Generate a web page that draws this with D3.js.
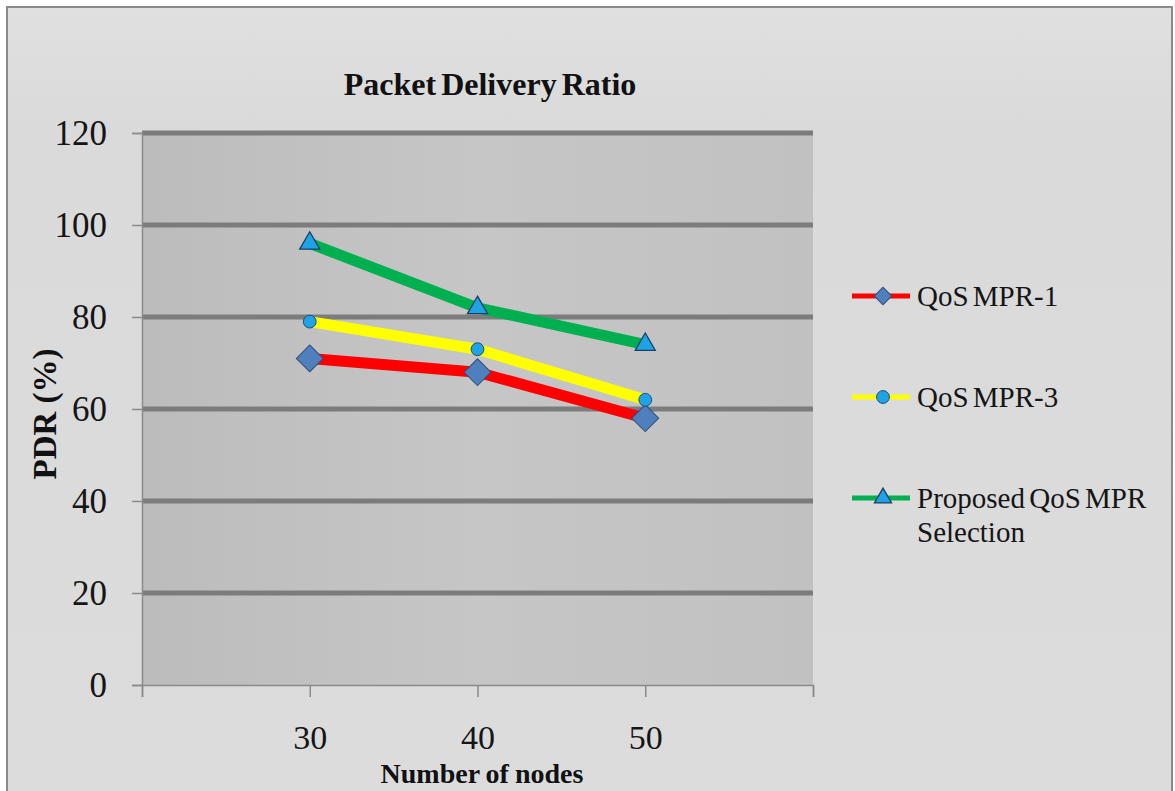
<!DOCTYPE html>
<html>
<head>
<meta charset="utf-8">
<script src="https://cdn.jsdelivr.net/npm/d3@7"></script>
<style>
  html, body { margin: 0; padding: 0; background: #ffffff; }
  svg { display: block; }
</style>
</head>
<body>
<svg id="chart" width="1175" height="791"></svg>
<script>
// Packet delivery ratio vs. number of nodes
const nodes = [30, 40, 50];
const xTicks = [20, 30, 40, 50, 60];
const xTickLabels = ["", "30", "40", "50", ""];
const yTicks = [0, 20, 40, 60, 80, 100, 120];

const seriesNames = ["QoS MPR-1", "QoS MPR-3", "Proposed QoS MPR Selection"];
const mpr1 = [71, 68, 58];
const mpr3 = [79, 73, 62];
const proposed = [96, 82, 74];

const lineColors = ["#ff0000", "#ffff00", "#00b050"];
const markerShapes = ["diamond", "circle", "triangle"];

const SERIF = '"Liberation Serif", "Times New Roman", serif';

const svg = d3.select("#chart");
const W = 1175, H = 791;

// outer chart area and frame
const defs = svg.append("defs");
const bg = defs.append("linearGradient").attr("id", "bgGrad").attr("x1", 0).attr("y1", 0).attr("x2", 0).attr("y2", 1);
bg.append("stop").attr("offset", "0").attr("stop-color", "#e0e0e0");
bg.append("stop").attr("offset", "0.15").attr("stop-color", "#dadada");
bg.append("stop").attr("offset", "1").attr("stop-color", "#dcdcdc");
svg.append("rect").attr("x", 0).attr("y", 0).attr("width", W).attr("height", H).attr("fill", "#ffffff");
svg.append("rect").attr("x", 7).attr("y", 7).attr("width", 1165).attr("height", 800)
  .attr("fill", "url(#bgGrad)").attr("stroke", "#8a8a8a").attr("stroke-width", 2);

const plot = { left: 142, right: 813, top: 133, bottom: 685 };

const x = d3.scaleLinear().domain([20, 60]).range([plot.left, plot.right]);
const y = d3.scaleLinear().domain([0, 120]).range([plot.bottom, plot.top]);

// plot area fill
const pg = defs.append("linearGradient").attr("id", "plotGrad").attr("x1", 0).attr("y1", 0).attr("x2", 1).attr("y2", 0);
pg.append("stop").attr("offset", "0").attr("stop-color", "#bcbcbc");
pg.append("stop").attr("offset", "0.5").attr("stop-color", "#c6c6c6");
pg.append("stop").attr("offset", "1").attr("stop-color", "#c1c1c1");
svg.append("rect")
  .attr("x", plot.left).attr("y", plot.top)
  .attr("width", plot.right - plot.left).attr("height", plot.bottom - plot.top)
  .attr("fill", "url(#plotGrad)");

// horizontal gridlines
svg.append("g").selectAll("line")
  .data(yTicks.filter(d => d > 0))
  .join("line")
  .attr("x1", plot.left).attr("x2", plot.right)
  .attr("y1", d => y(d)).attr("y2", d => y(d))
  .attr("stroke", "#7c7c7c").attr("stroke-width", 5);

// y axis
const yAxis = svg.append("g")
  .attr("transform", `translate(${plot.left},0)`)
  .call(d3.axisLeft(y).tickValues(yTicks).tickSize(10).tickPadding(25));
yAxis.attr("font-family", null).attr("font-size", null);
yAxis.select(".domain").attr("stroke", "#8a8a8a").attr("stroke-width", 1.5);
yAxis.selectAll(".tick line").attr("stroke", "#8a8a8a").attr("stroke-width", 1.5);
yAxis.selectAll(".tick text")
  .style("font-family", SERIF).style("font-size", "35px").attr("fill", "#151515");

// x axis
const xAxis = svg.append("g")
  .attr("transform", `translate(0,${plot.bottom})`)
  .call(d3.axisBottom(x).tickValues(xTicks).tickSize(12)
    .tickFormat((d, i) => xTickLabels[i]));
xAxis.attr("font-family", null).attr("font-size", null);
xAxis.select(".domain").attr("stroke", "#8a8a8a").attr("stroke-width", 1.5);
xAxis.selectAll(".tick line").attr("stroke", "#8a8a8a").attr("stroke-width", 1.5);
xAxis.selectAll(".tick text")
  .attr("y", 64).attr("dy", 0)
  .style("font-family", SERIF).style("font-size", "34px").attr("fill", "#151515");

// titles
svg.append("text").attr("x", 490).attr("y", 95).attr("text-anchor", "middle")
  .style("font-family", SERIF).style("font-size", "32px").style("font-weight", "bold")
  .style("word-spacing", "-3px").attr("fill", "#111")
  .text("Packet Delivery Ratio");
svg.append("text").attr("x", 482).attr("y", 783).attr("text-anchor", "middle")
  .style("font-family", SERIF).style("font-size", "28px").style("font-weight", "bold")
  .style("word-spacing", "-1px").attr("fill", "#111")
  .text("Number of nodes");
svg.append("text").attr("transform", "translate(56,414) rotate(-90)").attr("text-anchor", "middle")
  .style("font-family", SERIF).style("font-size", "33px").style("font-weight", "bold").attr("fill", "#111")
  .text("PDR (%)");

// series lines and markers
const allSeries = [mpr1, mpr3, proposed];
const line = d3.line().x((d, i) => x(nodes[i])).y(d => y(d));

function drawMarker(g, shape, cx, cy, scale) {
  if (shape === "diamond") {
    g.append("path")
      .attr("d", d3.symbol().type(d3.symbolSquare).size(360 * scale * scale)())
      .attr("transform", `translate(${cx},${cy}) rotate(45)`)
      .attr("fill", "#4f7fbd").attr("stroke", "#2f4f78").attr("stroke-width", 1);
  } else if (shape === "circle") {
    g.append("circle").attr("cx", cx).attr("cy", cy).attr("r", 6.4 * scale)
      .attr("fill", "#1ea3e6").attr("stroke", "#1b4f78").attr("stroke-width", 1);
  } else {
    g.append("path")
      .attr("d", d3.symbol().type(d3.symbolTriangle).size(175 * scale * scale)())
      .attr("transform", `translate(${cx},${cy})`)
      .attr("fill", "#1ea3e6").attr("stroke", "#1b3f60").attr("stroke-width", 1.3);
  }
}

const seriesG = svg.append("g");
allSeries.forEach((vals, s) => {
  seriesG.append("path").datum(vals)
    .attr("d", line)
    .attr("fill", "none").attr("stroke", lineColors[s])
    .attr("stroke-width", 11).attr("stroke-linejoin", "round");
});
allSeries.forEach((vals, s) => {
  vals.forEach((v, i) => drawMarker(seriesG, markerShapes[s], x(nodes[i]), y(v), 1));
});

// legend
const legendRows = [296, 397, 498];
const legendScale = [0.65, 1, 0.85];
const legend = svg.append("g");
seriesNames.forEach((name, s) => {
  const ly = legendRows[s];
  legend.append("line").attr("x1", 852).attr("x2", 910).attr("y1", ly).attr("y2", ly)
    .attr("stroke", lineColors[s]).attr("stroke-width", 5);
  drawMarker(legend, markerShapes[s], 883, ly, legendScale[s]);
  const t = legend.append("text").attr("x", 917).attr("y", ly + 10)
    .style("font-family", SERIF).style("font-size", "29px").style("word-spacing", "-3px").attr("fill", "#151515");
  if (s === 2) {
    t.append("tspan").attr("x", 917).text("Proposed QoS MPR");
    t.append("tspan").attr("x", 917).attr("dy", 34).text("Selection");
  } else {
    t.text(name);
  }
});
</script>
</body>
</html>
